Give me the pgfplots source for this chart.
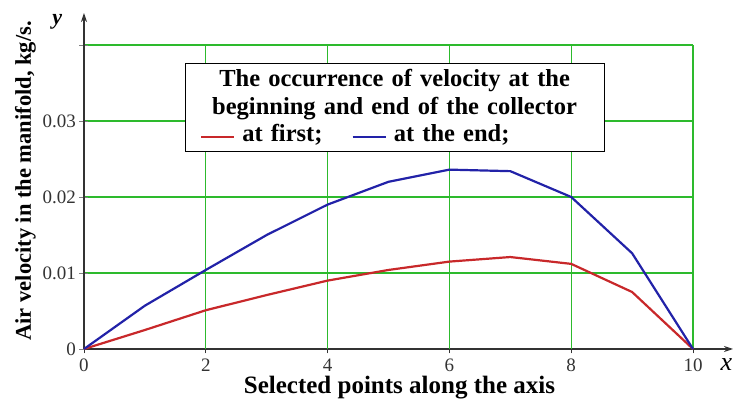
\documentclass[border=0pt]{standalone}
\usepackage{fontspec}
\setmainfont{Liberation Serif}
\usepackage{pgfplots}
\pgfplotsset{compat=1.18}
\usetikzlibrary{arrows.meta}
\definecolor{gridgreen}{HTML}{2DBA2D}
\definecolor{redline}{HTML}{C8282A}
\definecolor{blueline}{HTML}{2222A8}
\definecolor{axisgray}{HTML}{333333}

\pgfplotstableread{
x   first   theend
0   0       0
1   0.0025  0.0057
2   0.0051  0.0104
3   0.0071  0.0150
4   0.0090  0.0190
5   0.0104  0.0220
6   0.0115  0.0236
7   0.0121  0.0234
8   0.0112  0.0200
9   0.0075  0.0126
10  0       0
}\velocity

\begin{document}
\begin{tikzpicture}
\begin{axis}[
  scale only axis, width=609pt, height=304pt,
  xmin=0, xmax=10, ymin=0, ymax=0.04,
  axis lines=left,
  axis line style={line width=1.1pt, color=axisgray},
  x axis line style={-{Stealth[length=9pt,width=6pt]}, shorten >=-40pt},
  y axis line style={-{Stealth[length=9pt,width=6pt]}, shorten >=-32pt},
  xtick={0,2,4,6,8,10},
  xticklabels={0,2,4,6,8,10},
  ytick={0,0.01,0.02,0.03,0.04},
  yticklabels={0,0.01,0.02,0.03,},
  scaled y ticks=false,
  tick align=center, major tick length=9pt,
  xmajorgrids=false, ymajorgrids=true,
  grid style={gridgreen, line width=1.4pt},
  xtick style={color=axisgray, line width=0.9pt},
  tick label style={font=\fontsize{19}{21}\selectfont, color=axisgray},
  xticklabel style={yshift=-2pt},
  xlabel={Selected points along the axis},
  ylabel={Air velocity in the manifold, kg/s.},
  xlabel style={font=\fontsize{25}{27}\selectfont\bfseries,
    at={(axis description cs:0.518,-0.128)}, anchor=center},
  ylabel style={font=\fontsize{22.5}{24}\selectfont\bfseries,
    at={(axis description cs:-0.096,0.553)}, anchor=center},
  clip=false,
]
% vertical grid lines
\addplot[gridgreen, line width=1.4pt, forget plot] coordinates {(2,0) (2,0.04)};
\addplot[gridgreen, line width=1.4pt, forget plot] coordinates {(4,0) (4,0.04)};
\addplot[gridgreen, line width=1.4pt, forget plot] coordinates {(6,0) (6,0.04)};
\addplot[gridgreen, line width=1.4pt, forget plot] coordinates {(8,0) (8,0.04)};
\addplot[gridgreen, line width=1.4pt, forget plot] coordinates {(10,0) (10,0.04)};
\addplot[color=redline, line width=2.2pt] table[x=x, y=first] {\velocity};
\addplot[color=blueline, line width=2.2pt] table[x=x, y=theend] {\velocity};
\node[draw=black, line width=1pt, fill=white, text width=407pt, align=center,
  inner sep=6pt, font=\fontsize{24.5}{27.5}\selectfont\bfseries]
  at (axis cs:5.10,0.0318)
  {The occurrence of velocity at the\\ beginning and end of the collector\\
   \hspace*{10pt}\textcolor{redline}{\rule[0.3ex]{33pt}{2pt}} at first;\hspace{22pt}
   \textcolor{blueline}{\rule[0.3ex]{33pt}{2pt}} at the end;\hfill\null};
\node[font=\fontsize{22}{22}\selectfont\bfseries\itshape] at (axis cs:-0.44,0.0430) {y};
\node[font=\fontsize{26}{26}\selectfont\itshape] at (axis cs:10.55,-0.0020) {x};
\end{axis}
\pgfresetboundingbox
\path[use as bounding box] (-84pt,-52pt) rectangle (653pt,349pt);
\end{tikzpicture}
\end{document}
